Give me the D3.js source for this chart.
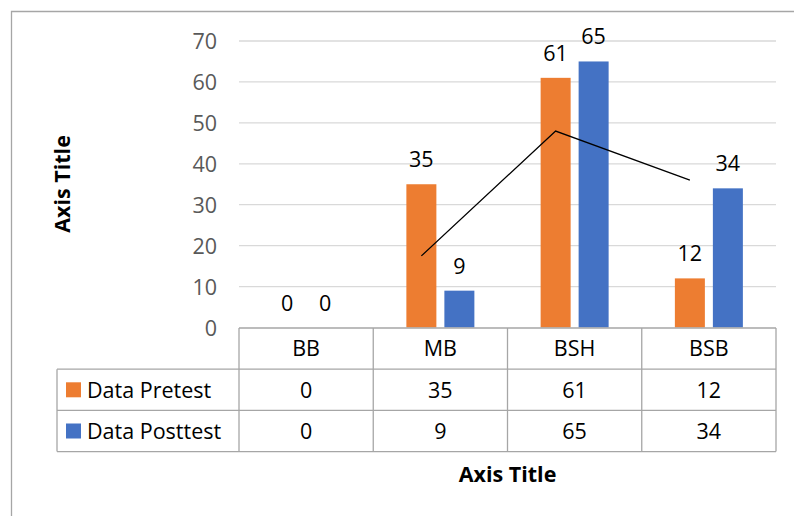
<!DOCTYPE html>
<html>
<head>
<meta charset="utf-8">
<script src="https://cdn.jsdelivr.net/npm/d3@7"></script>
<style>
  html, body { margin: 0; padding: 0; background: #fff; }
  svg { display: block; }
  text { font-family: "Open Sans", "Noto Sans", sans-serif; }
</style>
</head>
<body>
<svg id="chart" width="794" height="516"></svg>
<script>
// Categories and series values
const categories = ["BB", "MB", "BSH", "BSB"];
const seriesNames = ["Data Pretest", "Data Posttest"];
const pretest = [0, 35, 61, 12];
const posttest = [0, 9, 65, 34];
const seriesColors = ["#ED7D31", "#4472C4"];
const yTicks = [0, 10, 20, 30, 40, 50, 60, 70];

// Hand-drawn connector over the pretest bars (category, value)
const connectorCats = ["MB", "BSH", "BSB"];
const connectorValues = [17.5, 48, 36];

const seriesValues = [pretest, posttest];

const svg = d3.select("#chart");
const W = 794, H = 516;
const plot = { left: 239, right: 776, top: 41, bottom: 327.5 };
const rowH = 41.2;
const tableLeft = 57;
const fs = "21.5px";

// Chart area border (top and left edges visible)
svg.append("path")
  .attr("d", `M11.5,${H} L11.5,11.5 L${W},11.5`)
  .attr("fill", "none")
  .attr("stroke", "#A6A6A6")
  .attr("stroke-width", 1.3);

const x0 = d3.scaleBand().domain(categories).range([plot.left, plot.right]).padding(0);
const x1 = d3.scaleBand().domain(seriesNames).range([0, x0.bandwidth()])
  .paddingInner(0.2105).paddingOuter(0.8717);
const y = d3.scaleLinear().domain([0, 70]).range([plot.bottom, plot.top]);

// Gridlines
svg.append("g").selectAll("line").data(yTicks.filter(d => d > 0)).join("line")
  .attr("x1", plot.left).attr("x2", plot.right)
  .attr("y1", d => y(d)).attr("y2", d => y(d))
  .attr("stroke", "#D9D9D9").attr("stroke-width", 1.3);

// Y axis tick labels
const yAxis = d3.axisLeft(y).tickValues(yTicks).tickSize(0).tickPadding(0);
const gy = svg.append("g").attr("transform", `translate(217,0)`).call(yAxis);
gy.select(".domain").remove();
gy.selectAll("text")
  .attr("fill", "#595959")
  .style("font-size", fs)
  .style("font-family", "'Open Sans', sans-serif")
  .attr("dy", "0.36em");

// Bars
const groups = svg.append("g").selectAll("g").data(categories).join("g")
  .attr("transform", c => `translate(${x0(c)},0)`);

groups.selectAll("rect")
  .data((c, i) => seriesNames.map((s, k) => ({ s, v: seriesValues[k][i], k })))
  .join("rect")
  .attr("x", d => x1(d.s))
  .attr("width", x1.bandwidth())
  .attr("y", d => y(d.v))
  .attr("height", d => y(0) - y(d.v))
  .attr("fill", d => seriesColors[d.k]);

// Value labels
groups.selectAll("text.val")
  .data((c, i) => seriesNames.map((s, k) => ({ s, v: seriesValues[k][i], k })))
  .join("text")
  .attr("class", "val")
  .attr("x", d => x1(d.s) + x1.bandwidth() / 2)
  .attr("y", d => y(d.v) - 17)
  .attr("text-anchor", "middle")
  .attr("fill", "#000")
  .style("font-size", fs)
  .text(d => d.v);

// Connector line through pretest bar centres
const line = d3.line()
  .x(d => x0(d.c) + x1(seriesNames[0]) + x1.bandwidth() / 2)
  .y(d => y(d.v));
svg.append("path")
  .datum(connectorCats.map((c, i) => ({ c, v: connectorValues[i] })))
  .attr("d", line)
  .attr("fill", "none")
  .attr("stroke", "#000")
  .attr("stroke-width", 1.3);

// Data table
const tableTop = plot.bottom + 0.5;
const table = svg.append("g");
const gridColor = "#A6A6A6";
const rowsY = [tableTop, tableTop + rowH, tableTop + 2 * rowH, tableTop + 3 * rowH];

// horizontal lines
table.append("line")
  .attr("x1", plot.left).attr("x2", plot.right)
  .attr("y1", rowsY[0]).attr("y2", rowsY[0])
  .attr("stroke", gridColor).attr("stroke-width", 1.3);
[1, 2, 3].forEach(r => {
  table.append("line")
    .attr("x1", tableLeft).attr("x2", plot.right)
    .attr("y1", rowsY[r]).attr("y2", rowsY[r])
    .attr("stroke", gridColor).attr("stroke-width", 1.3);
});
// vertical lines
table.append("line")
  .attr("x1", tableLeft).attr("x2", tableLeft)
  .attr("y1", rowsY[1]).attr("y2", rowsY[3])
  .attr("stroke", gridColor).attr("stroke-width", 1.3);
categories.concat(["__end"]).forEach((c, i) => {
  const xv = i < categories.length ? x0(c) : plot.right;
  table.append("line")
    .attr("x1", xv).attr("x2", xv)
    .attr("y1", rowsY[0]).attr("y2", rowsY[3])
    .attr("stroke", gridColor).attr("stroke-width", 1.3);
});

// header: category names
table.selectAll("text.cat").data(categories).join("text")
  .attr("class", "cat")
  .attr("x", c => x0(c) + x0.bandwidth() / 2)
  .attr("y", (rowsY[0] + rowsY[1]) / 2)
  .attr("dy", "0.36em")
  .attr("text-anchor", "middle")
  .attr("fill", "#000")
  .style("font-size", fs)
  .text(c => c);

// value rows with legend keys
seriesNames.forEach((s, k) => {
  const cy = (rowsY[k + 1] + rowsY[k + 2]) / 2;
  table.append("rect")
    .attr("x", 66).attr("y", cy - 7.5)
    .attr("width", 15).attr("height", 15)
    .attr("fill", seriesColors[k]);
  table.append("text")
    .attr("x", 87).attr("y", cy).attr("dy", "0.36em")
    .attr("fill", "#000")
    .style("font-size", fs)
    .text(s);
  table.selectAll(null).data(categories).join("text")
    .attr("x", c => x0(c) + x0.bandwidth() / 2)
    .attr("y", cy).attr("dy", "0.36em")
    .attr("text-anchor", "middle")
    .attr("fill", "#000")
    .style("font-size", fs)
    .text((c, i) => seriesValues[k][i]);
});

// Axis titles
svg.append("text")
  .attr("x", (plot.left + plot.right) / 2)
  .attr("y", 482)
  .attr("text-anchor", "middle")
  .attr("font-weight", "bold")
  .attr("fill", "#000")
  .style("font-size", "21.5px")
  .text("Axis Title");

svg.append("text")
  .attr("transform", "translate(70,184) rotate(-90)")
  .attr("text-anchor", "middle")
  .attr("font-weight", "bold")
  .attr("fill", "#000")
  .style("font-size", "21.5px")
  .text("Axis Title");
</script>
</body>
</html>
